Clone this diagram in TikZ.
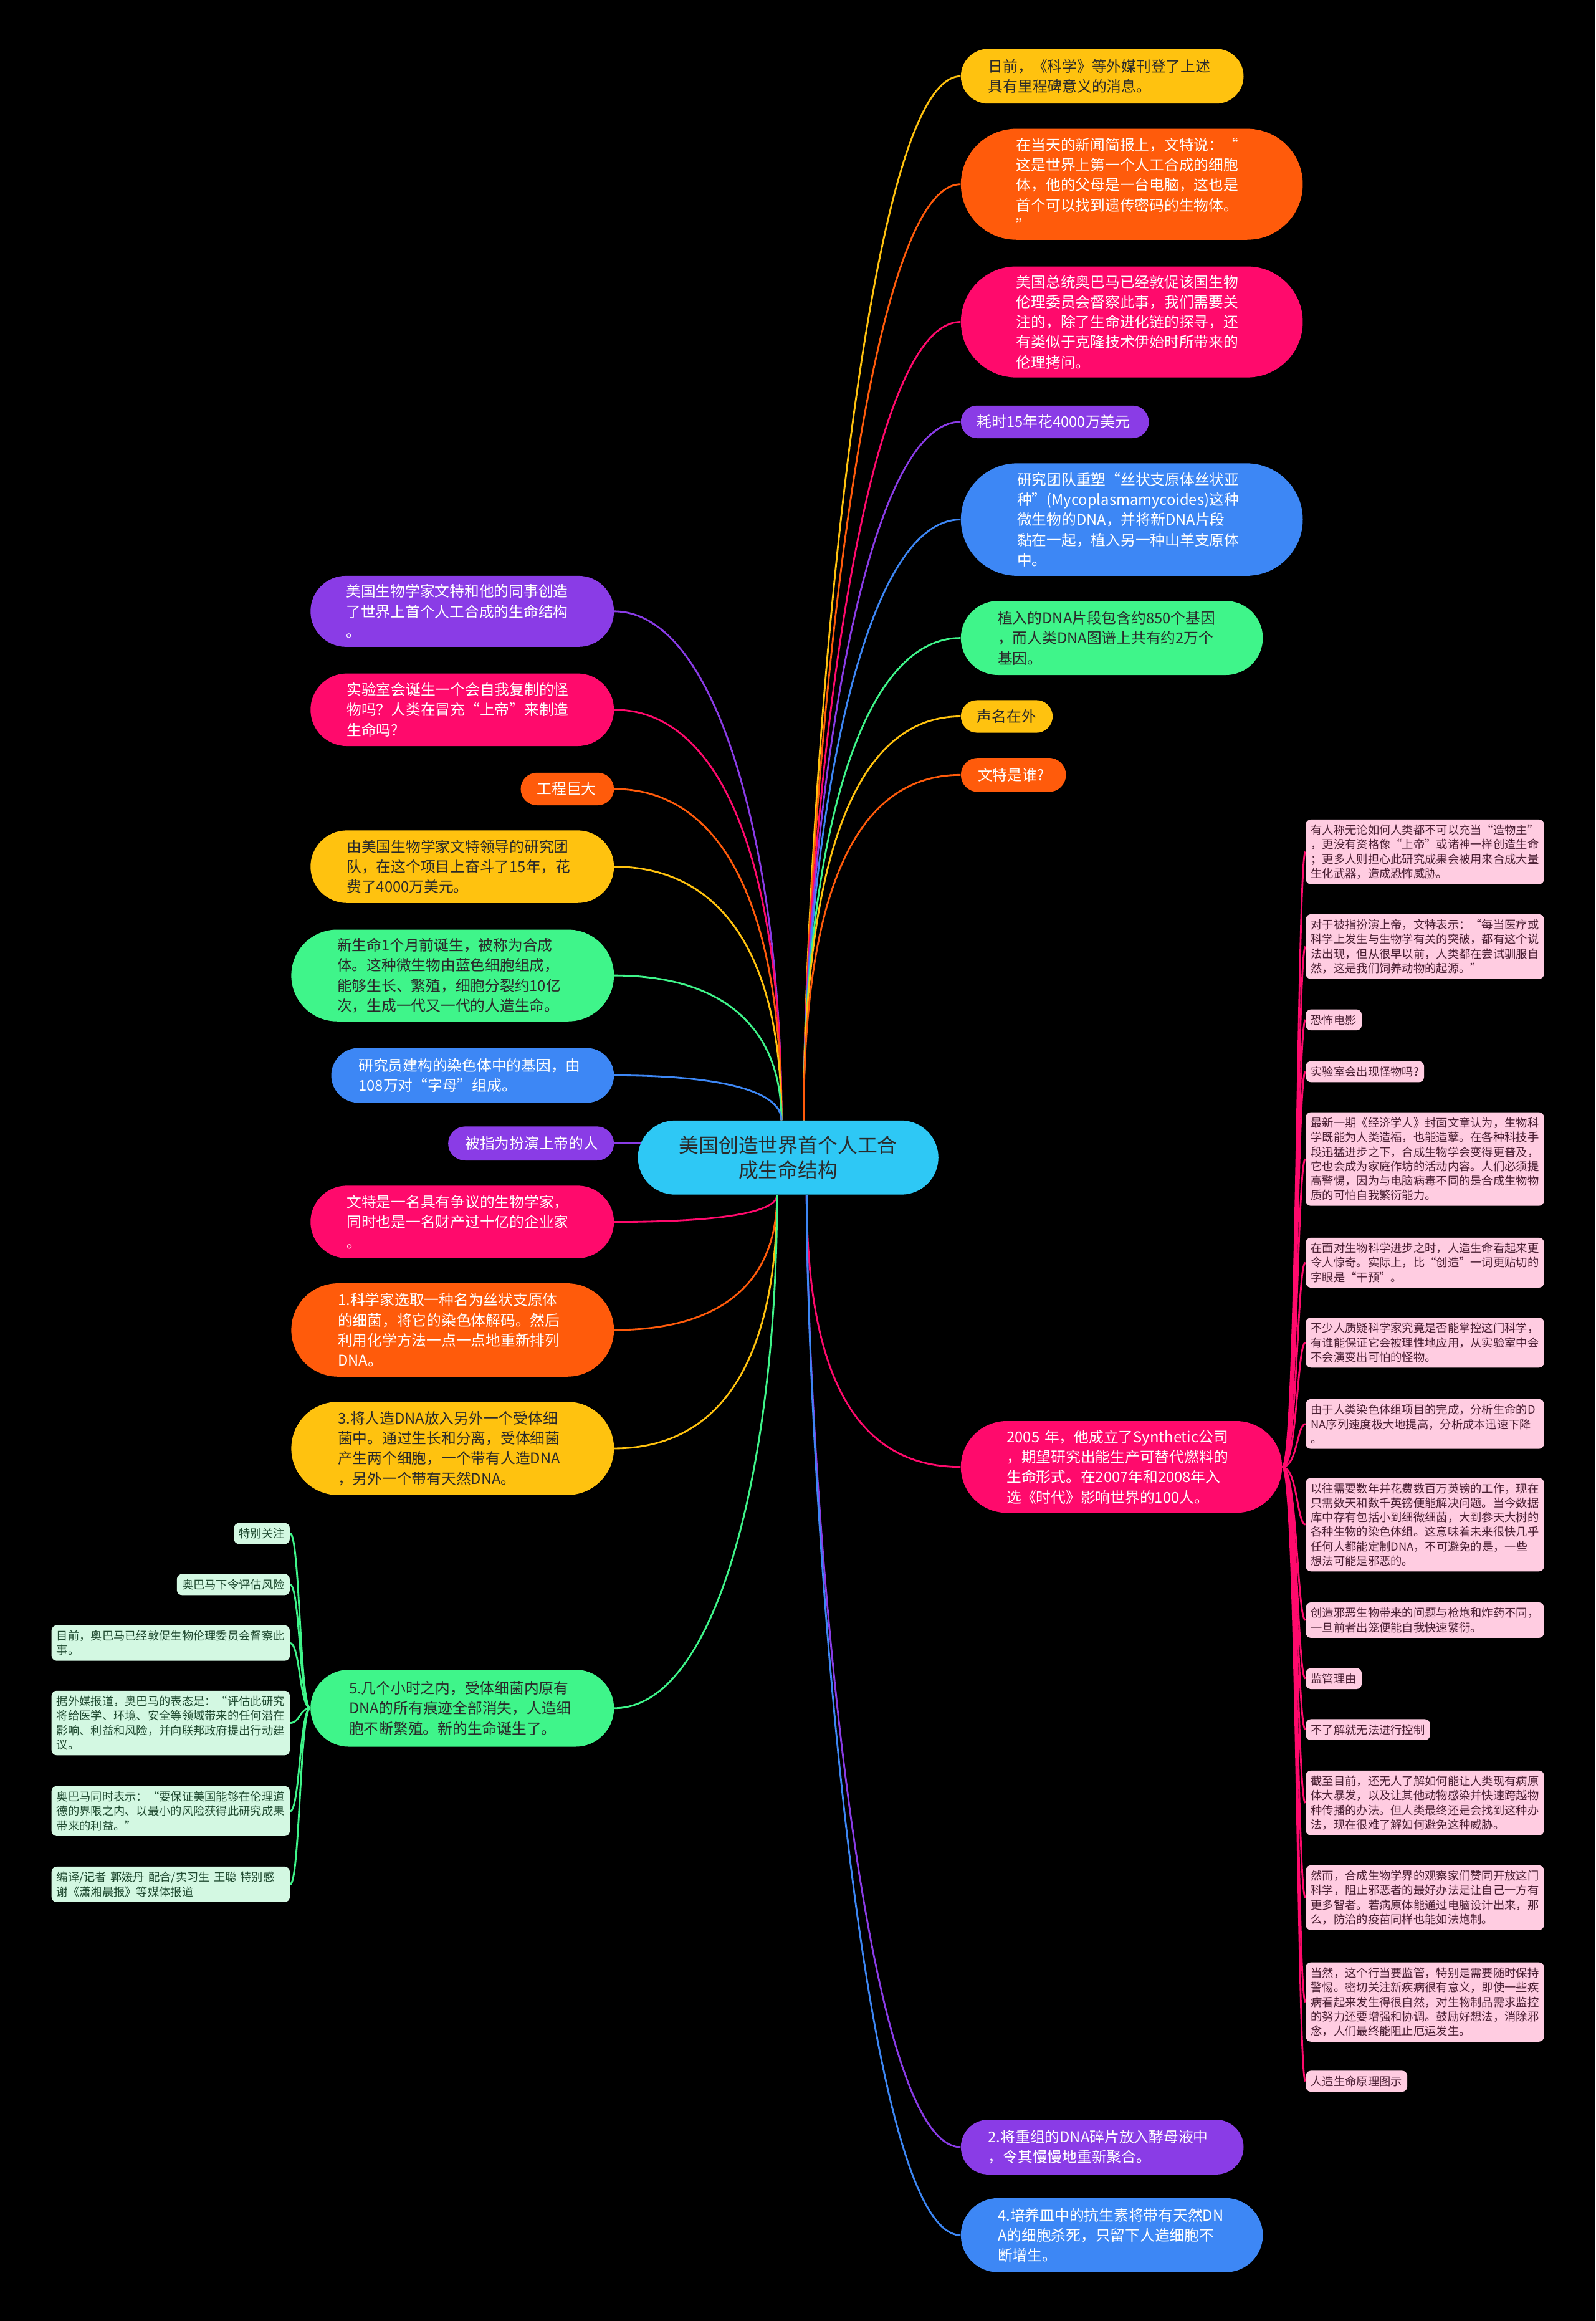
\documentclass[tikz,border=0pt]{standalone}
\usepackage{fontspec}
\setmainfont{Noto Sans CJK SC}
\usetikzlibrary{shapes.misc,backgrounds,calc}
\definecolor{cYel}{HTML}{FFC20F}
\definecolor{cOra}{HTML}{FF5B0B}
\definecolor{cPnk}{HTML}{FF0A6C}
\definecolor{cPur}{HTML}{8A3CE6}
\definecolor{cBlu}{HTML}{3D87F5}
\definecolor{cGrn}{HTML}{3FF58A}
\definecolor{cCya}{HTML}{2EC8F5}
\definecolor{cDark}{HTML}{2A2A2A}
\definecolor{cPnkL}{HTML}{FFCCE1}
\definecolor{cPnkT}{HTML}{4A1F33}
\definecolor{cGrnL}{HTML}{D3F8E2}
\definecolor{cGrnT}{HTML}{1F4A30}
\newcommand{\fMain}{\fontsize{10}{13.6}\selectfont}
\newcommand{\fRoot}{\fontsize{13.4}{17}\selectfont}
\newcommand{\fLeaf}{\fontsize{7.7}{9.8}\selectfont}
\tikzset{
  rootS/.style ={rounded rectangle, fill=cCya, text=cDark, font=\fRoot, align=center, inner xsep=0pt, inner ysep=2pt},
  topicS/.style={rounded rectangle, fill=#1, text=white, font=\fMain, align=left, inner xsep=0pt, inner ysep=2pt},
  darkT/.style ={text=cDark},
  leafP/.style ={fill=cPnkL, text=cPnkT, rounded corners=3.5pt, font=\fLeaf, align=left, inner xsep=3.5pt, inner ysep=3.5pt, anchor=west},
  leafG/.style ={fill=cGrnL, text=cGrnT, rounded corners=3.5pt, font=\fLeaf, align=left, inner xsep=3.5pt, inner ysep=3.5pt, anchor=east},
  linkS/.style ={draw=#1, line width=1.2pt},
}

\begin{document}
\begin{tikzpicture}[x=1pt,y=-1pt]
  \node[rootS, text width=153pt, minimum width=203pt, minimum height=50pt] (c) at (532.5,782) {美国创造世界首个人工合\\成生命结构};

  \node[topicS=cYel, darkT, text width=154pt, minimum width=191pt, minimum height=37pt, anchor=west] (r1) at (649,51.5) {日前，《科学》等外媒刊登了上述\\具有里程碑意义的消息。};
  \node[topicS=cOra, text width=156pt, minimum width=231pt, minimum height=75pt, anchor=west] (r2) at (649,124.5) {在当天的新闻简报上，文特说：“\\这是世界上第一个人工合成的细胞\\体，他的父母是一台电脑，这也是\\首个可以找到遗传密码的生物体。\\”};
  \node[topicS=cPnk, text width=156pt, minimum width=231pt, minimum height=75pt, anchor=west] (r3) at (649,217.5) {美国总统奥巴马已经敦促该国生物\\伦理委员会督察此事，我们需要关\\注的，除了生命进化链的探寻，还\\有类似于克隆技术伊始时所带来的\\伦理拷问。};
  \node[topicS=cPur, text width=105pt, minimum width=127pt, minimum height=22pt, anchor=west] (r4) at (649,285) {耗时15年花4000万美元};
  \node[topicS=cBlu, text width=155pt, minimum width=231pt, minimum height=76pt, anchor=west] (r5) at (649,351) {研究团队重塑“丝状支原体丝状亚\\种”(Mycoplasmamycoides)这种\\微生物的DNA，并将新DNA片段\\黏在一起，植入另一种山羊支原体\\中。};
  \node[topicS=cGrn, darkT, text width=154pt, minimum width=204pt, minimum height=50pt, anchor=west] (r6) at (649,431) {植入的DNA片段包含约850个基因\\，而人类DNA图谱上共有约2万个\\基因。};
  \node[topicS=cYel, darkT, text width=40pt, minimum width=62pt, minimum height=22pt, anchor=west] (r7) at (649,484) {声名在外};
  \node[topicS=cOra, text width=48pt, minimum width=71pt, minimum height=23pt, anchor=west] (r8) at (649,523.5) {文特是谁?};
  \node[topicS=cPnk, text width=155pt, minimum width=217pt, minimum height=62pt, anchor=west] (r9) at (649,991) {2005 年，他成立了Synthetic公司\\，期望研究出能生产可替代燃料的\\生命形式。在2007年和2008年入\\选《时代》影响世界的100人。};
  \node[topicS=cPur, text width=154pt, minimum width=191pt, minimum height=37pt, anchor=west] (r10) at (649,1450.5) {2.将重组的DNA碎片放入酵母液中\\，令其慢慢地重新聚合。};
  \node[topicS=cBlu, text width=154pt, minimum width=204pt, minimum height=50pt, anchor=west] (r11) at (649,1510) {4.培养皿中的抗生素将带有天然DN\\A的细胞杀死，只留下人造细胞不\\断增生。};

  \node[topicS=cPur, text width=157pt, minimum width=205pt, minimum height=48pt, anchor=east] (l1) at (415,413) {美国生物学家文特和他的同事创造\\了世界上首个人工合成的生命结构\\。};
  \node[topicS=cPnk, text width=156pt, minimum width=205pt, minimum height=49pt, anchor=east] (l2) at (415,479.5) {实验室会诞生一个会自我复制的怪\\物吗？人类在冒充“上帝”来制造\\生命吗?};
  \node[topicS=cOra, text width=41pt, minimum width=63pt, minimum height=22pt, anchor=east] (l3) at (415,533) {工程巨大};
  \node[topicS=cYel, darkT, text width=156pt, minimum width=205pt, minimum height=49pt, anchor=east] (l4) at (415,585.5) {由美国生物学家文特领导的研究团\\队，在这个项目上奋斗了15年，花\\费了4000万美元。};
  \node[topicS=cGrn, darkT, text width=156pt, minimum width=218pt, minimum height=62pt, anchor=east] (l5) at (415,659) {新生命1个月前诞生，被称为合成\\体。这种微生物由蓝色细胞组成，\\能够生长、繁殖，细胞分裂约10亿\\次，生成一代又一代的人造生命。};
  \node[topicS=cBlu, text width=154pt, minimum width=191pt, minimum height=37pt, anchor=east] (l6) at (415,726.5) {研究员建构的染色体中的基因，由\\108万对“字母”组成。};
  \node[topicS=cPur, text width=89pt, minimum width=112pt, minimum height=23pt, anchor=east] (l7) at (415,772.5) {被指为扮演上帝的人};
  \node[topicS=cPnk, text width=156pt, minimum width=205pt, minimum height=49pt, anchor=east] (l8) at (415,825.5) {文特是一名具有争议的生物学家，\\同时也是一名财产过十亿的企业家\\。};
  \node[topicS=cOra, text width=155pt, minimum width=218pt, minimum height=63pt, anchor=east] (l9) at (415,898.5) {1.科学家选取一种名为丝状支原体\\的细菌，将它的染色体解码。然后\\利用化学方法一点一点地重新排列\\DNA。};
  \node[topicS=cYel, darkT, text width=155pt, minimum width=218pt, minimum height=63pt, anchor=east] (l10) at (415,978.5) {3.将人造DNA放入另外一个受体细\\菌中。通过生长和分离，受体细菌\\产生两个细胞，一个带有人造DNA\\，另外一个带有天然DNA。};
  \node[topicS=cGrn, darkT, text width=153pt, minimum width=205pt, minimum height=52pt, anchor=east] (l11) at (415,1154) {5.几个小时之内，受体细菌内原有\\DNA的所有痕迹全部消失，人造细\\胞不断繁殖。新的生命诞生了。};

  \node[leafP, text width=154pt] (p1) at (882,575.5) {有人称无论如何人类都不可以充当“造物主”\\，更没有资格像“上帝”或诸神一样创造生命\\；更多人则担心此研究成果会被用来合成大量\\生化武器，造成恐怖威胁。};
  \node[leafP, text width=154pt] (p2) at (882,639.5) {对于被指扮演上帝，文特表示：“每当医疗或\\科学上发生与生物学有关的突破，都有这个说\\法出现，但从很早以前，人类都在尝试驯服自\\然，这是我们饲养动物的起源。”};
  \node[leafP] (p3) at (882,689) {恐怖电影};
  \node[leafP] (p4) at (882,724) {实验室会出现怪物吗?};
  \node[leafP, text width=154pt] (p5) at (882,783) {最新一期《经济学人》封面文章认为，生物科\\学既能为人类造福，也能造孽。在各种科技手\\段迅猛进步之下，合成生物学会变得更普及，\\它也会成为家庭作坊的活动内容。人们必须提\\高警惕，因为与电脑病毒不同的是合成生物物\\质的可怕自我繁衍能力。};
  \node[leafP, text width=154pt] (p6) at (882,853) {在面对生物科学进步之时，人造生命看起来更\\令人惊奇。实际上，比“创造”一词更贴切的\\字眼是“干预”。};
  \node[leafP, text width=154pt] (p7) at (882,907) {不少人质疑科学家究竟是否能掌控这门科学，\\有谁能保证它会被理性地应用，从实验室中会\\不会演变出可怕的怪物。};
  \node[leafP, text width=154pt] (p8) at (882,962) {由于人类染色体组项目的完成，分析生命的D\\NA序列速度极大地提高，分析成本迅速下降\\。};
  \node[leafP, text width=154pt] (p9) at (882,1030) {以往需要数年并花费数百万英镑的工作，现在\\只需数天和数千英镑便能解决问题。当今数据\\库中存有包括小到细微细菌，大到参天大树的\\各种生物的染色体组。这意味着未来很快几乎\\任何人都能定制DNA，不可避免的是，一些\\想法可能是邪恶的。};
  \node[leafP, text width=154pt] (p10) at (882,1094.5) {创造邪恶生物带来的问题与枪炮和炸药不同，\\一旦前者出笼便能自我快速繁衍。};
  \node[leafP] (p11) at (882,1134) {监管理由};
  \node[leafP] (p12) at (882,1168.5) {不了解就无法进行控制};
  \node[leafP, text width=154pt] (p13) at (882,1218) {截至目前，还无人了解如何能让人类现有病原\\体大暴发，以及让其他动物感染并快速跨越物\\种传播的办法。但人类最终还是会找到这种办\\法，现在很难了解如何避免这种威胁。};
  \node[leafP, text width=154pt] (p14) at (882,1282) {然而，合成生物学界的观察家们赞同开放这门\\科学，阻止邪恶者的最好办法是让自己一方有\\更多智者。若病原体能通过电脑设计出来，那\\么，防治的疫苗同样也能如法炮制。};
  \node[leafP, text width=154pt] (p15) at (882,1352.5) {当然，这个行当要监管，特别是需要随时保持\\警惕。密切关注新疾病很有意义，即使一些疾\\病看起来发生得很自然，对生物制品需求监控\\的努力还要增强和协调。鼓励好想法，消除邪\\念，人们最终能阻止厄运发生。};
  \node[leafP] (p16) at (882,1406) {人造生命原理图示};

  \node[leafG] (g1) at (196,1036) {特别关注};
  \node[leafG] (g2) at (196,1070.5) {奥巴马下令评估风险};
  \node[leafG, text width=154pt] (g3) at (196,1110) {目前，奥巴马已经敦促生物伦理委员会督察此\\事。};
  \node[leafG, text width=154pt] (g4) at (196,1164) {据外媒报道，奥巴马的表态是：“评估此研究\\将给医学、环境、安全等领域带来的任何潜在\\影响、利益和风险，并向联邦政府提出行动建\\议。};
  \node[leafG, text width=154pt] (g5) at (196,1223.5) {奥巴马同时表示：“要保证美国能够在伦理道\\德的界限之内、以最小的风险获得此研究成果\\带来的利益。”};
  \node[leafG, text width=154pt] (g6) at (196,1273) {编译/记者 郭媛丹 配合/实习生 王聪 特别感\\谢《潇湘晨报》等媒体报道};

  \coordinate (ctl) at ([xshift=-4.5pt]c.north);
  \coordinate (ctr) at ([xshift=10.5pt]c.north);
  \coordinate (cbl) at ([xshift=-7.5pt]c.south);
  \coordinate (cbr) at ([xshift=12.5pt]c.south);
  \coordinate (pv) at ([xshift=10pt]r9.east);
  \coordinate (gv) at ([xshift=-7pt]l11.west);

  \begin{scope}[on background layer]
    \fill[black] (0,0) rectangle (1078,1568);
    \foreach \nd/\cl in {r1/cYel,r2/cOra,r3/cPnk,r4/cPur,r5/cBlu,r6/cGrn,r7/cYel,r8/cOra}
      \draw[linkS=\cl] let \p1=(ctr), \p2=(\nd.west), \n1={min(180,0.67*abs(\y2-\y1))} in
        (\p1) .. controls ([yshift=\n1]\p1) and ([xshift=-70pt]\p2) .. (\p2);
    \foreach \nd/\cl in {r9/cPnk,r10/cPur,r11/cBlu}
      \draw[linkS=\cl] let \p1=(cbr), \p2=(\nd.west), \n1={min(180,0.67*abs(\y2-\y1))} in
        (\p1) .. controls ([yshift=-\n1]\p1) and ([xshift=-70pt]\p2) .. (\p2);
    \foreach \nd/\cl in {l1/cPur,l2/cPnk,l3/cOra,l4/cYel,l5/cGrn,l6/cBlu}
      \draw[linkS=\cl] let \p1=(ctl), \p2=(\nd.east), \n1={min(180,0.67*abs(\y2-\y1))} in
        (\p2) .. controls ([xshift=70pt]\p2) and ([yshift=\n1]\p1) .. (\p1);
    \draw[linkS=cPur] (l7.east) -- (c.center |- l7.east);
    \foreach \nd/\cl in {l8/cPnk,l9/cOra,l10/cYel,l11/cGrn}
      \draw[linkS=\cl] let \p1=(cbl), \p2=(\nd.east), \n1={min(180,0.67*abs(\y2-\y1))} in
        (\p2) .. controls ([xshift=70pt]\p2) and ([yshift=-\n1]\p1) .. (\p1);
    \foreach \i in {1,...,16}
      \draw[linkS=cPnk] (r9.east) .. controls (pv) and (pv |- p\i.west) .. (p\i.west);
    \foreach \i in {1,...,6}
      \draw[linkS=cGrn] (l11.west) .. controls (gv) and (gv |- g\i.east) .. (g\i.east);
  \end{scope}
\end{tikzpicture}
\end{document}
